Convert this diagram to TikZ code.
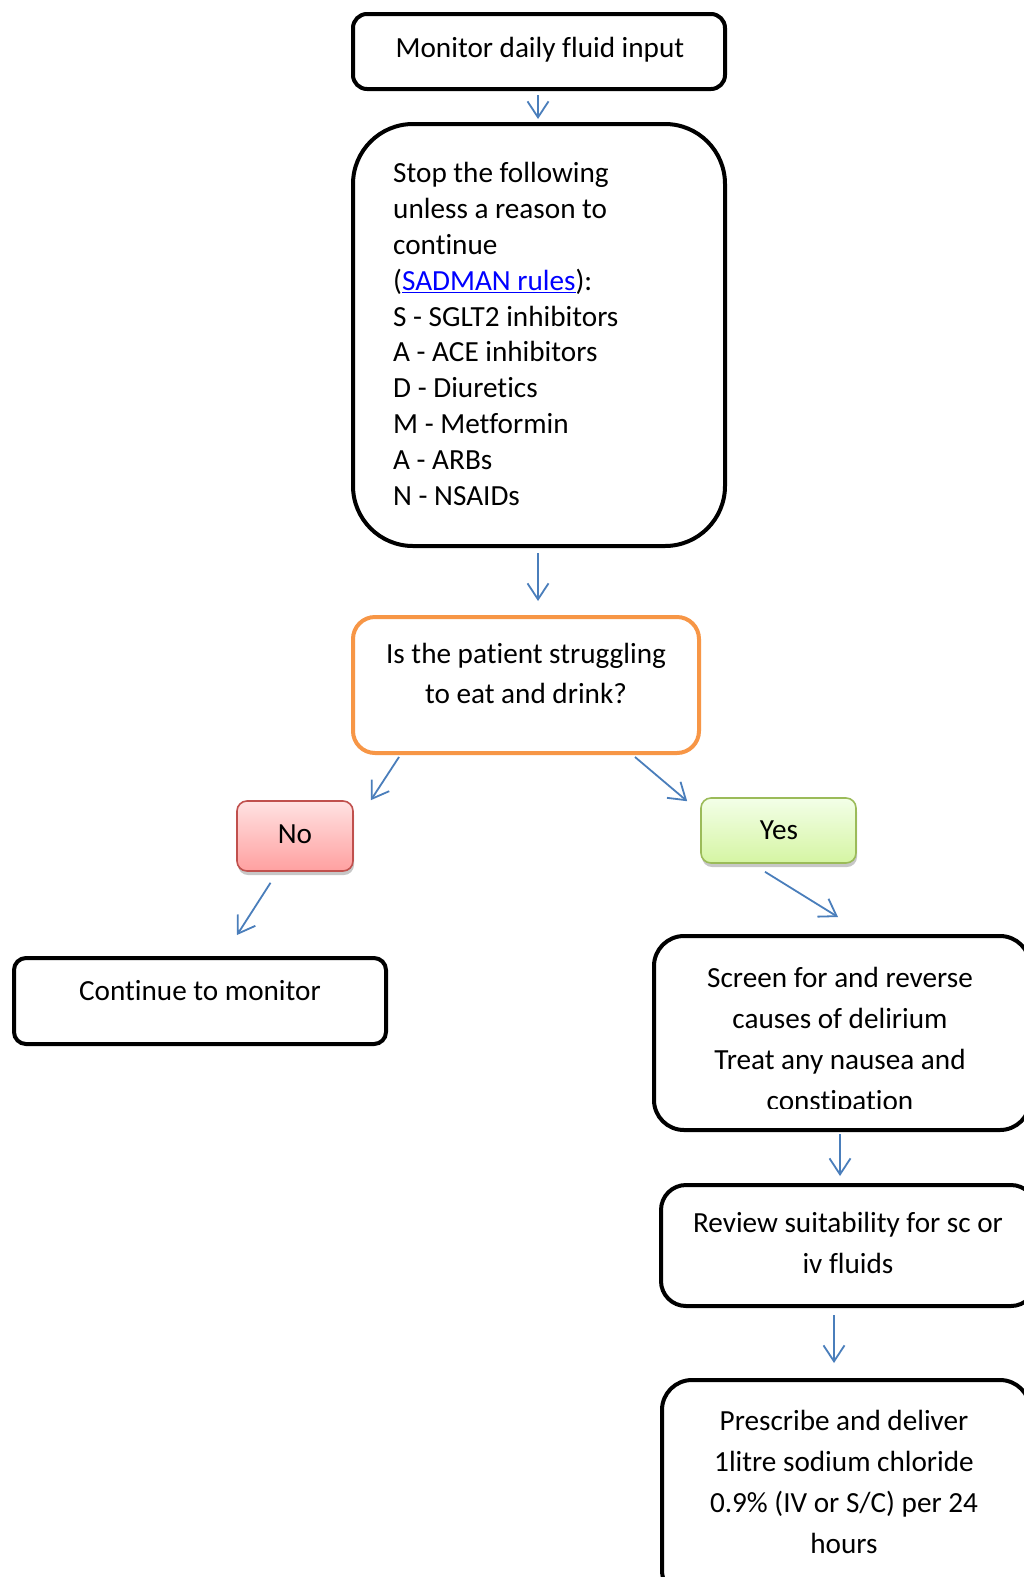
\documentclass[tikz,border=0pt]{standalone}
\usepackage{fontspec}
\setmainfont{Carlito}[Ligatures={NoCommon,NoContextual}]
\usetikzlibrary{arrows.meta,shadows}
\definecolor{arrblue}{HTML}{4A7EBB}
\definecolor{orng}{HTML}{F79646}
\definecolor{nobd}{HTML}{C0504D}
\definecolor{notop}{HTML}{FFE2E2}
\definecolor{nobot}{HTML}{FFA0A0}
\definecolor{yesbd}{HTML}{9BBB59}
\definecolor{yestop}{HTML}{F3FFE8}
\definecolor{yesbot}{HTML}{D5F5A3}
\definecolor{linkblue}{HTML}{0000FF}
\begin{document}
\begin{tikzpicture}[x=1pt,y=-1pt,
  blk/.style={draw=black, line width=4pt, rounded corners=#1, inner sep=0pt},
  txt/.style={font=\fontsize{29.2pt}{35.8pt}\selectfont, inner sep=0pt, align=center},
  txtw/.style={font=\fontsize{29.2pt}{41pt}\selectfont, inner sep=0pt, align=center},
  arr/.style={draw=arrblue, line width=1.8pt, -{Straight Barb[length=16pt,width=21pt]}},
  small/.style={line width=1.6pt, rounded corners=10pt, inner sep=0pt,
    drop shadow={shadow xshift=1pt, shadow yshift=-4pt, opacity=0.22, fill=black}}
]
\useasboundingbox (0,0) rectangle (1024,1577);
\fill[white] (0,0) rectangle (1024,1577);
\clip (0,0) rectangle (1024,1577);

% boxes
\node[blk=14pt, minimum width=372pt, minimum height=75pt] (b1) at (539,51.5) {};
\node[blk=60pt, minimum width=372pt, minimum height=422pt] (b2) at (539,335) {};
\node[blk=22pt, draw=orng, minimum width=346pt, minimum height=136pt] (b3) at (526,685) {};
\node[small, draw=nobd, top color=notop, bottom color=nobot, minimum width=116pt, minimum height=70pt] (no) at (295,836) {};
\node[small, draw=yesbd, top color=yestop, bottom color=yesbot, minimum width=155pt, minimum height=65pt] (yes) at (778.5,830.5) {};
\node[blk=12pt, minimum width=372pt, minimum height=86pt] (cont) at (200,1001) {};
\node[blk=30pt, minimum width=376pt, minimum height=194pt] (screen) at (842,1033) {};
\node[blk=25pt, minimum width=375pt, minimum height=121pt] (review) at (848.5,1245.5) {};
\node[blk=30pt, minimum width=368pt, minimum height=220pt] (presc) at (846,1490) {};

% texts
\node[txt] (t1) at (540,50) {Monitor daily fluid input};
\node[txt, align=left, anchor=west] (t2) at (393,334) {Stop the following\\unless a reason to\\continue\\({\color{linkblue}\underline{SADMAN rules}}):\\S - SGLT2 inhibitors\\A - ACE inhibitors\\D - Diuretics\\M - Metformin\\A - ARBs\\N - NSAIDs};
\node[txt, font=\fontsize{29.2pt}{40pt}\selectfont] (t3) at (526,673.5) {Is the patient struggling\\to eat and drink?};
\node[txt] (tno) at (295,834) {No};
\node[txt] (tyes) at (779,830) {Yes};
\node[txt] (tcont) at (200,991) {Continue to monitor};
\begin{scope}
\clip (600,900) rectangle (1024,1108);
\node[txtw] (tscreen) at (840,1041.5) {Screen for and reverse\\causes of delirium\\Treat any nausea and\\constipation};
\end{scope}
\node[txtw] (treview) at (848,1242.5) {Review suitability for sc or\\iv fluids};
\node[txtw] (tpresc) at (844,1481.5) {Prescribe and deliver\\1litre sodium chloride\\0.9\% (IV or S/C) per 24\\hours};

% arrows
\draw[arr] ([shift={(-1,4)}]b1.south) -- ([shift={(-1,-3)}]b2.north);
\draw[arr] ([shift={(-1,5)}]b2.south) -- ([shift={(12,-14)}]b3.north);
\draw[arr] ([shift={(48,2)}]b3.south west) -- ([shift={(17,0)}]no.north east);
\draw[arr] ([shift={(-66,2)}]b3.south east) -- ([shift={(-13,4)}]yes.north west);
\draw[arr] ([shift={(-24.5,11)}]no.south) -- ([shift={(37,-21)}]cont.north);
\draw[arr] ([shift={(-13.5,8)}]yes.south) -- ([shift={(-4,-17)}]screen.north);
\draw[arr] ([shift={(-2,2)}]screen.south) -- ([shift={(-8.5,-7)}]review.north);
\draw[arr] ([shift={(-14.5,7)}]review.south) -- ([shift={(-12,-15)}]presc.north);
\end{tikzpicture}
\end{document}
